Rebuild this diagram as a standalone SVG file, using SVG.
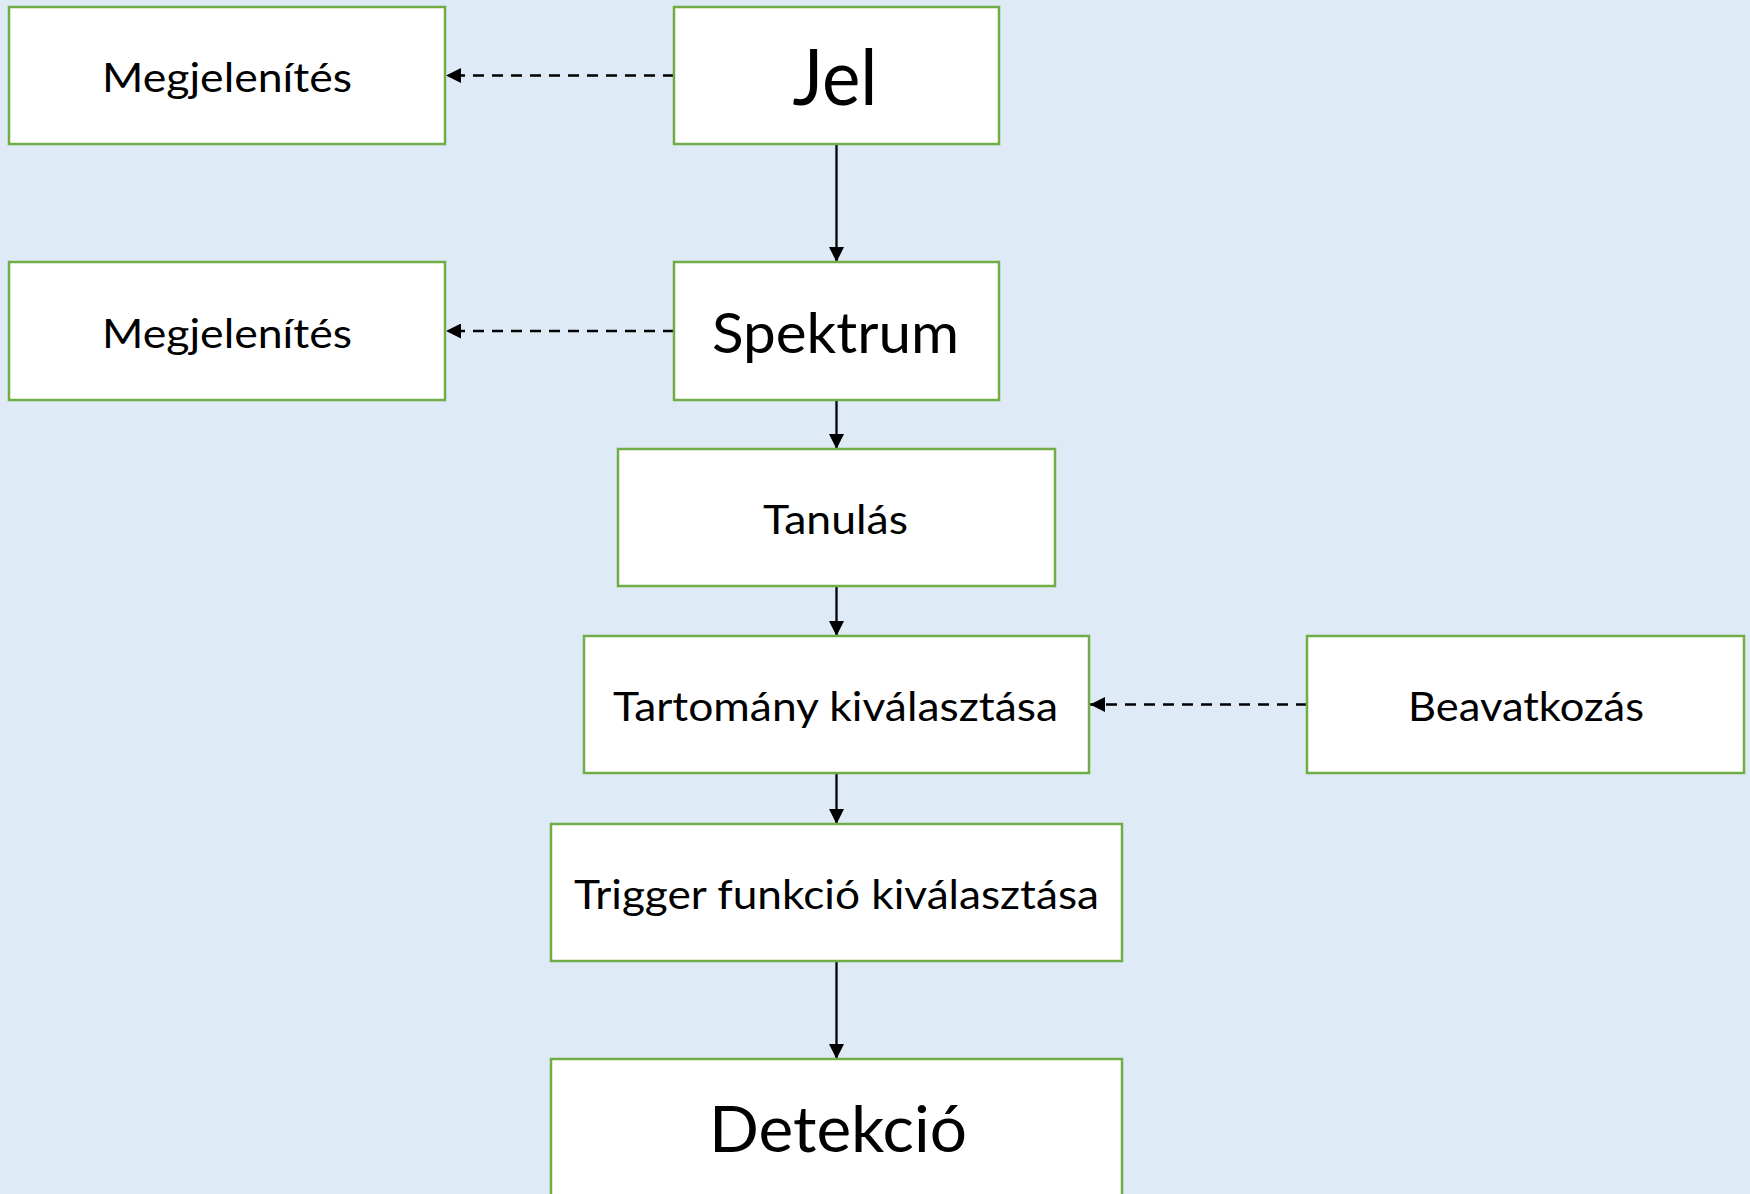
<svg xmlns="http://www.w3.org/2000/svg" width="1750" height="1194" viewBox="0 0 1750 1194">
<style>
.box{fill:#FFFFFF;stroke:#70AD47;stroke-width:2.5}
.t{font-family:Lato,"Open Sans","Liberation Sans",sans-serif;fill:#000000;text-anchor:middle}
.s{font-size:40px}
.solid{stroke:#000000;stroke-width:2.3;fill:none}
.dash{stroke:#000000;stroke-width:2.3;fill:none;stroke-dasharray:11 8}
</style>
<defs>
<marker id="ah" markerUnits="userSpaceOnUse" markerWidth="15" markerHeight="15" refX="15" refY="7.5" orient="auto">
<path d="M0,0 L15,7.5 L0,15 z" fill="#000000"/>
</marker>
</defs>
<rect x="0" y="0" width="1750" height="1194" fill="#DEEAF6"/>
<g id="connectors">
<line class="solid" x1="836.5" y1="144" x2="836.5" y2="262" marker-end="url(#ah)"/>
<line class="solid" x1="836.5" y1="400" x2="836.5" y2="449" marker-end="url(#ah)"/>
<line class="solid" x1="836.5" y1="586" x2="836.5" y2="636" marker-end="url(#ah)"/>
<line class="solid" x1="836.5" y1="773" x2="836.5" y2="824" marker-end="url(#ah)"/>
<line class="solid" x1="836.5" y1="961" x2="836.5" y2="1059" marker-end="url(#ah)"/>
<line class="dash" x1="674" y1="75.5" x2="446" y2="75.5" marker-end="url(#ah)"/>
<line class="dash" x1="674" y1="331" x2="446" y2="331" marker-end="url(#ah)"/>
<line class="dash" x1="1307" y1="704.5" x2="1090" y2="704.5" marker-end="url(#ah)"/>
</g>
<g id="megjelenites1">
<rect class="box" x="9" y="7" width="436" height="137"/>
<text class="t s" x="227" y="92" textLength="250" lengthAdjust="spacingAndGlyphs">Megjelenítés</text>
</g>
<g id="jel">
<rect class="box" x="674" y="7" width="325" height="137"/>
<text class="t" x="835" y="105" font-size="77" textLength="85" lengthAdjust="spacingAndGlyphs">Jel</text>
</g>
<g id="megjelenites2">
<rect class="box" x="9" y="262" width="436" height="138"/>
<text class="t s" x="227" y="347.5" textLength="250" lengthAdjust="spacingAndGlyphs">Megjelenítés</text>
</g>
<g id="spektrum">
<rect class="box" x="674" y="262" width="325" height="138"/>
<text class="t" x="835.5" y="353" font-size="57" textLength="247" lengthAdjust="spacingAndGlyphs">Spektrum</text>
</g>
<g id="tanulas">
<rect class="box" x="618" y="449" width="437" height="137"/>
<text class="t s" x="835.5" y="534" textLength="145" lengthAdjust="spacingAndGlyphs">Tanulás</text>
</g>
<g id="tartomany">
<rect class="box" x="584" y="636" width="505" height="137"/>
<text class="t s" x="835.5" y="721" textLength="445" lengthAdjust="spacingAndGlyphs">Tartomány kiválasztása</text>
</g>
<g id="beavatkozas">
<rect class="box" x="1307" y="636" width="437" height="137"/>
<text class="t s" x="1526" y="721" textLength="236" lengthAdjust="spacingAndGlyphs">Beavatkozás</text>
</g>
<g id="trigger">
<rect class="box" x="551" y="824" width="571" height="137"/>
<text class="t s" x="836.5" y="909" textLength="525" lengthAdjust="spacingAndGlyphs">Trigger funkció kiválasztása</text>
</g>
<g id="detekcio">
<rect class="box" x="551" y="1059" width="571" height="160"/>
<text class="t" x="838" y="1152" font-size="63" textLength="258" lengthAdjust="spacingAndGlyphs">Detekció</text>
</g>
</svg>
